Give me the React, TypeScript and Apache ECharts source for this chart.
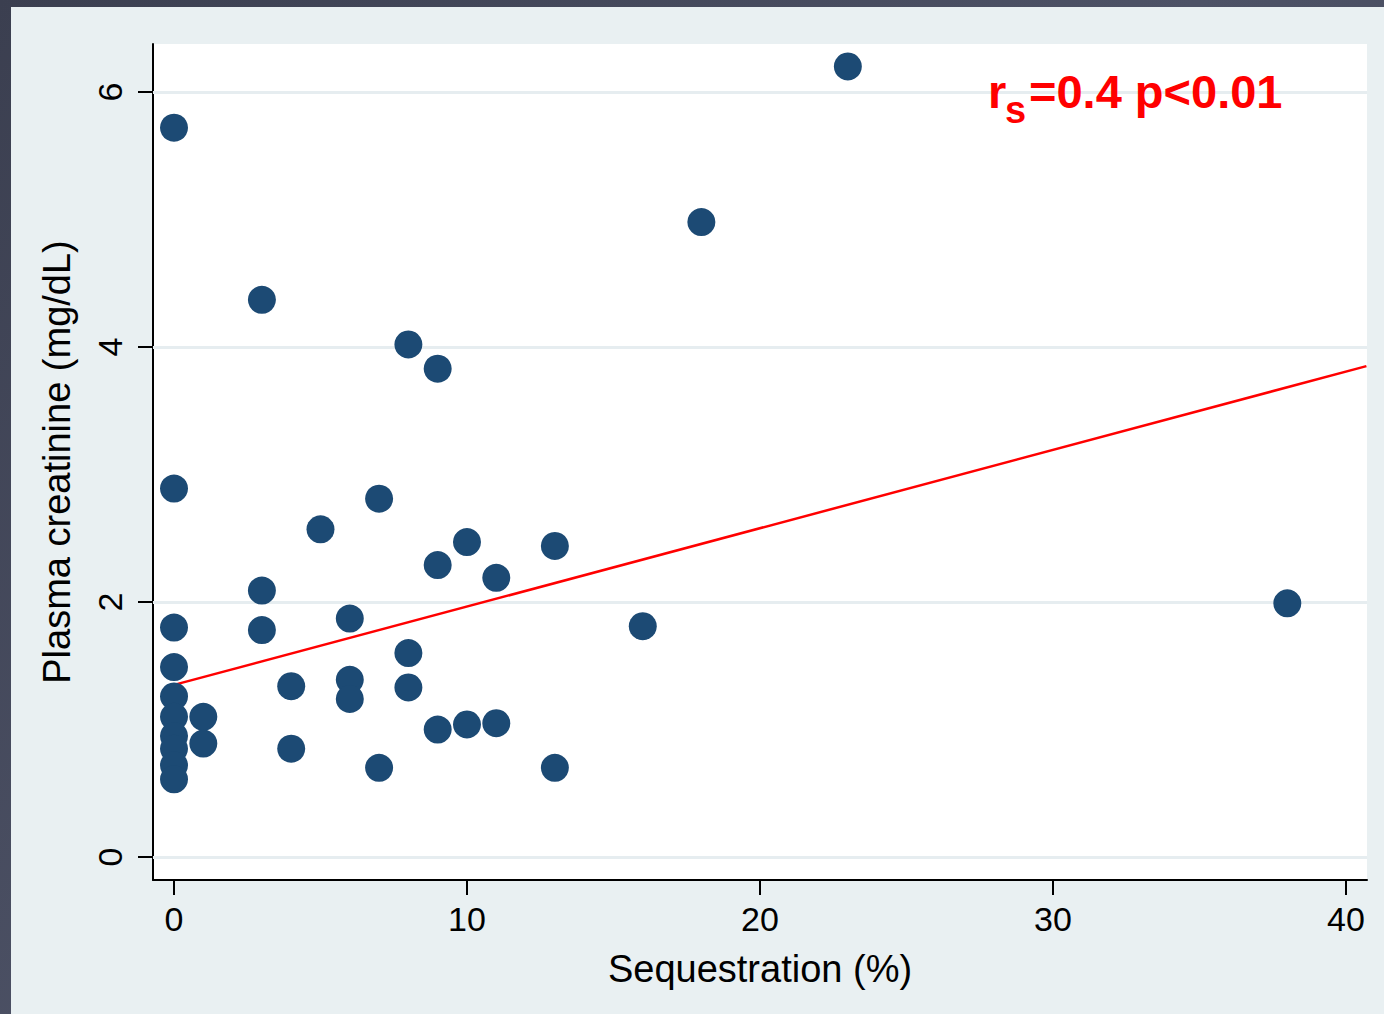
import React, { useEffect, useRef } from "react";
import * as echarts from "echarts";

// Sequestration (%) values
const seqX = [0, 23, 18, 3, 8, 9, 0, 7, 5, 10, 13, 9, 11, 3, 38, 6, 0, 3, 16, 8, 0, 6, 4, 8, 0, 6, 1, 0, 11, 10, 9, 0, 1, 0, 4, 0, 7, 13, 0];
// Plasma creatinine (mg/dL) values
const creatY = [5.72, 6.2, 4.98, 4.37, 4.02, 3.83, 2.89, 2.81, 2.57, 2.47, 2.44, 2.29, 2.19, 2.09, 1.99, 1.87, 1.8, 1.78, 1.81, 1.6, 1.49, 1.39, 1.34, 1.33, 1.26, 1.24, 1.1, 1.1, 1.05, 1.04, 1.0, 0.95, 0.89, 0.85, 0.85, 0.72, 0.7, 0.7, 0.61];
// Linear fit line endpoints
const fitX = [0, 40.7];
const fitY = [1.35, 3.85];
// Tick values
const xTicks = [0, 10, 20, 30, 40];
const yTicks = [0, 2, 4, 6];

const AXIS_FONT = "'Liberation Sans', Arial, sans-serif";

export default function App() {
  const ref = useRef<HTMLDivElement>(null);

  useEffect(() => {
    if (!ref.current) return;
    const chart = echarts.init(ref.current, null, { renderer: "svg" });
    const points = seqX.map((x, i) => [x, creatY[i]]);
    const fit = fitX.map((x, i) => [x, fitY[i]]);

    const annoStyle = (text: string, size: number) => ({
      text,
      fill: "#ff0000",
      fontSize: size,
      fontWeight: "bold",
      fontFamily: AXIS_FONT,
      align: "left",
      verticalAlign: "middle",
      textAlign: "left",
      textVerticalAlign: "middle",
    });

    chart.setOption({
      animation: false,
      backgroundColor: "#e9f0f2",
      grid: {
        left: 142,
        top: 37,
        right: 17,
        bottom: 134,
        show: true,
        backgroundColor: "#ffffff",
        borderWidth: 0,
      },
      xAxis: {
        type: "value",
        min: -0.717,
        max: 40.72,
        name: "Sequestration (%)",
        nameLocation: "middle",
        nameGap: 70,
        nameTextStyle: { fontSize: 38, color: "#000", fontFamily: AXIS_FONT },
        axisLine: { show: true, onZero: false, lineStyle: { color: "#000", width: 2 } },
        axisTick: { show: true, length: 15, lineStyle: { color: "#000", width: 2 }, customValues: xTicks },
        axisLabel: { fontSize: 34, color: "#000", fontFamily: AXIS_FONT, margin: 22, customValues: xTicks },
        splitLine: { show: false },
      },
      yAxis: {
        type: "value",
        min: -0.18,
        max: 6.376,
        name: "Plasma creatinine (mg/dL)",
        nameLocation: "middle",
        nameGap: 77,
        nameTextStyle: { fontSize: 38, color: "#000", fontFamily: AXIS_FONT },
        axisLine: { show: true, onZero: false, lineStyle: { color: "#000", width: 2 } },
        axisTick: { show: true, length: 15, lineStyle: { color: "#000", width: 2 }, customValues: yTicks },
        axisLabel: { fontSize: 34, color: "#000", fontFamily: AXIS_FONT, margin: 26, rotate: 90, customValues: yTicks },
        splitLine: { show: false },
      },
      series: [
        {
          type: "line",
          data: [],
          z: 1,
          silent: true,
          markLine: {
            silent: true,
            symbol: "none",
            z: 1,
            label: { show: false },
            lineStyle: { color: "#e6edf0", width: 3, type: "solid" },
            data: yTicks.map((v) => ({ yAxis: v })),
          },
        },
        {
          type: "line",
          data: fit,
          z: 8,
          symbol: "none",
          lineStyle: { color: "#ff0000", width: 2.5 },
          silent: true,
        },
        {
          type: "scatter",
          data: points,
          z: 10,
          symbol: "circle",
          symbolSize: 28,
          itemStyle: { color: "#1c4a74", opacity: 1 },
        },
      ],
      graphic: [
        { type: "text", z: 100, x: 977, y: 84, style: annoStyle("r", 47) },
        { type: "text", z: 100, x: 994, y: 103, style: annoStyle("s", 38) },
        { type: "text", z: 100, x: 1018, y: 84, style: annoStyle("=0.4 p<0.01", 47) },
      ],
    });

    return () => chart.dispose();
  }, []);

  return (
    <div
      style={{
        position: "absolute",
        left: 0,
        top: 0,
        width: 1384,
        height: 1014,
        background: "linear-gradient(135deg, #3b3f50 0%, #4d5266 50%, #3f4456 100%)",
        overflow: "hidden",
      }}
    >
      <div ref={ref} style={{ position: "absolute", left: 11, top: 7, width: 1373, height: 1007 }} />
    </div>
  );
}
